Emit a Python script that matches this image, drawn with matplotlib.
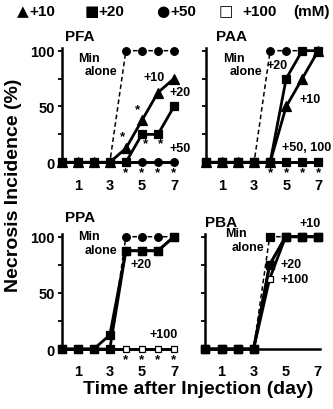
import matplotlib
matplotlib.use('Agg')
import matplotlib.pyplot as plt
from matplotlib.ticker import MultipleLocator

plt.rcParams['font.family'] = ['Liberation Sans', 'DejaVu Sans']
plt.rcParams['font.weight'] = 'bold'

days = [0, 1, 2, 3, 4, 5, 6, 7]
xticks = [1, 3, 5, 7]

# PFA
pfa_min = [0, 0, 0, 0, 100, 100, 100, 100]
pfa_10 = [0, 0, 0, 0, 12.5, 37.5, 62.5, 75]
pfa_20 = [0, 0, 0, 0, 0, 25, 25, 50]
pfa_50 = [0, 0, 0, 0, 0, 0, 0, 0]

# PAA
paa_min = [0, 0, 0, 0, 100, 100, 100, 100]
paa_10 = [0, 0, 0, 0, 0, 50, 75, 100]
paa_20 = [0, 0, 0, 0, 0, 75, 100, 100]
paa_50_100 = [0, 0, 0, 0, 0, 0, 0, 0]

# PPA
ppa_min = [0, 0, 0, 0, 100, 100, 100, 100]
ppa_10 = [0, 0, 0, 0, 87.5, 87.5, 87.5, 100]
ppa_20 = [0, 0, 0, 12.5, 87.5, 87.5, 87.5, 100]
ppa_100 = [0, 0, 0, 0, 0, 0, 0, 0]

# PBA
pba_min = [0, 0, 0, 0, 100, 100, 100, 100]
pba_10 = [0, 0, 0, 0, 75, 100, 100, 100]
pba_20 = [0, 0, 0, 0, 75, 100, 100, 100]
pba_100 = [0, 0, 0, 0, 62.5, 100, 100, 100]

sig_days = [4, 5, 6, 7]

fig = plt.figure(figsize=(3.33, 4.10), dpi=100)

def make_ax(rect, title, title_x, title_y, ylabels=True):
    ax = fig.add_axes(rect)
    ax.set_xlim(0, 7.15)
    ax.set_ylim(0, 102)
    for s in ['top', 'right']:
        ax.spines[s].set_visible(False)
    for s in ['left', 'bottom']:
        ax.spines[s].set_linewidth(1.8)
    ax.set_xticks(xticks)
    ax.set_xticklabels([str(t) for t in xticks], fontsize=10.5, fontweight='bold')
    ax.tick_params(axis='x', length=0, pad=11)
    ax.set_yticks([0, 50, 100])
    ax.yaxis.set_minor_locator(MultipleLocator(25))
    ax.tick_params(axis='y', which='both', length=3, width=1.3, pad=2, labelsize=10.5)
    if not ylabels:
        ax.set_yticklabels([])
    ax.text(title_x, title_y, title, fontsize=11, fontweight='bold', va='center')
    return ax

def line(ax, y, marker, dashed=False, mfc='black', ms=5.5):
    ax.plot(days, y, color='black', lw=1.1 if dashed else 2.0,
            ls=(0, (3, 2)) if dashed else '-', marker=marker, ms=ms,
            mfc=mfc, mec='black', mew=0.9, clip_on=False, zorder=3)

def stars(ax, xs, ys):
    for x, y in zip(xs, ys):
        ax.text(x, y, '*', fontsize=9.5, ha='center', va='center')

def lbl(ax, x, y, s, ha='left'):
    ax.text(x, y, s, fontsize=9, ha=ha, va='center')

# top-left PFA
ax1 = make_ax([0.1853, 0.6017, 0.3444, 0.2777], 'PFA', 0.2, 113)
line(ax1, pfa_min, 'o', dashed=True)
line(ax1, pfa_50, 'o')
line(ax1, pfa_20, 's')
line(ax1, pfa_10, '^', ms=6.5)
stars(ax1, sig_days, [-9] * 4)
stars(ax1, [3.8, 4.7, 5.25, 6.15], [23, 48, 17, 17])
lbl(ax1, 1.0, 93.5, 'Min')
lbl(ax1, 1.45, 81.5, 'alone')
lbl(ax1, 5.1, 76, '+10')
lbl(ax1, 6.7, 63, '+20')
lbl(ax1, 6.75, 13, '+50')

# top-right PAA
ax2 = make_ax([0.6186, 0.6017, 0.3444, 0.2777], 'PAA', 0.62, 113, ylabels=False)
line(ax2, paa_min, 'o', dashed=True)
line(ax2, paa_50_100, 's')
line(ax2, paa_10, '^', ms=6.5)
line(ax2, paa_20, 's')
stars(ax2, sig_days, [-9] * 4)
lbl(ax2, 1.05, 93.5, 'Min')
lbl(ax2, 1.5, 81.5, 'alone')
lbl(ax2, 3.8, 87, '+20')
lbl(ax2, 5.85, 57, '+10')
lbl(ax2, 4.75, 14, '+50, 100')

# bottom-left PPA
ax3 = make_ax([0.1853, 0.1463, 0.3444, 0.2794], 'PPA', 0.2, 117.5)
line(ax3, ppa_100, 's', mfc='white', ms=4.5)
line(ax3, ppa_min, 'o', dashed=True)
line(ax3, ppa_10, 's')
line(ax3, ppa_20, 's')
stars(ax3, sig_days, [-9] * 4)
lbl(ax3, 1.0, 101, 'Min')
lbl(ax3, 1.45, 88, 'alone')
lbl(ax3, 4.3, 75.5, '+20')
lbl(ax3, 5.5, 13, '+100')

# bottom-right PBA
ax4 = make_ax([0.617, 0.1463, 0.3444, 0.2794], 'PBA', 0.0, 113, ylabels=False)
line(ax4, pba_100, 's', mfc='white', ms=5)
line(ax4, pba_min, 's', dashed=True)
line(ax4, pba_10, 's')
line(ax4, pba_20, 's')
lbl(ax4, 5.85, 112, '+10')
lbl(ax4, 1.25, 103, 'Min')
lbl(ax4, 1.65, 91, 'alone')
lbl(ax4, 4.7, 76, '+20')
lbl(ax4, 4.7, 62, '+100')

# legend row
leg_y = 0.971
sym = dict(fontsize=11, va='center', family=['DejaVu Sans'], fontweight='bold')
fig.text(17 / 333, leg_y, '\u25b2', **sym)
fig.text(29 / 333, leg_y, '+10', fontsize=11, va='center')
fig.text(85 / 333, leg_y, '\u25a0', **sym)
fig.text(98 / 333, leg_y, '+20', fontsize=11, va='center')
fig.text(156 / 333, leg_y, '\u25cf', **sym)
fig.text(170 / 333, leg_y, '+50', fontsize=11, va='center')
fig.text(219 / 333, leg_y, '\u25a1', **sym)
fig.text(242 / 333, leg_y, '+100', fontsize=11, va='center')
fig.text(293 / 333, leg_y, '(mM)', fontsize=11, va='center')

fig.text(0.04, 0.549, 'Necrosis Incidence (%)', rotation=90, fontsize=14,
         ha='center', va='center')
fig.text(0.595, 0.049, 'Time after Injection (day)', fontsize=14,
         ha='center', va='center')

fig.savefig('out.png', dpi=100)
